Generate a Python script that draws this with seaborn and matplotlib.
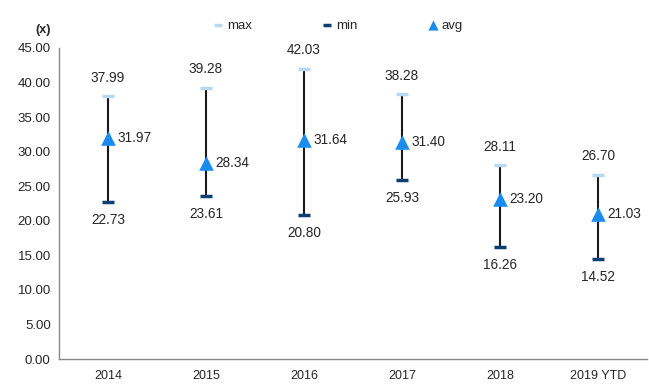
import matplotlib
matplotlib.use("Agg")
import matplotlib.pyplot as plt
import seaborn as sns
import pandas as pd
from matplotlib.ticker import FixedLocator, MultipleLocator, FormatStrFormatter

years = ["2014", "2015", "2016", "2017", "2018", "2019 YTD"]
max_vals = [37.99, 39.28, 42.03, 38.28, 28.11, 26.70]
min_vals = [22.73, 23.61, 20.80, 25.93, 16.26, 14.52]
avg_vals = [31.97, 28.34, 31.64, 31.40, 23.20, 21.03]

df = pd.DataFrame({"year": years, "max": max_vals, "min": min_vals, "avg": avg_vals})
df["pos"] = range(len(years))

sns.set_style("white")
plt.rcParams["font.family"] = ["Liberation Sans", "DejaVu Sans"]
plt.rcParams["font.size"] = 9

fig, ax = plt.subplots(figsize=(6.49, 3.87), dpi=100)
fig.subplots_adjust(left=0.091, right=0.997, top=0.876, bottom=0.072)

# whiskers
ax.vlines(df["pos"], df["min"], df["max"], color="#1a1a1a", lw=1.5, zorder=1)

sns.scatterplot(data=df, x="pos", y="max", marker="_", s=85, linewidth=2.5,
                color="#b8d8ef", ax=ax, label="max", zorder=2)
sns.scatterplot(data=df, x="pos", y="min", marker="_", s=85, linewidth=2.5,
                color="#0d3f73", ax=ax, label="min", zorder=2)
sns.scatterplot(data=df, x="pos", y="avg", marker="^", s=110, linewidth=0,
                color="#1a8cf0", ax=ax, label="avg", zorder=3)

for i, r in df.iterrows():
    ax.annotate(f"{r['max']:.2f}", (r["pos"], r["max"]), xytext=(0, 8),
                textcoords="offset points", ha="center", va="bottom", fontsize=9.8)
    ax.annotate(f"{r['min']:.2f}", (r["pos"], r["min"]), xytext=(0, -8),
                textcoords="offset points", ha="center", va="top", fontsize=9.8)
    ax.annotate(f"{r['avg']:.2f}", (r["pos"], r["avg"]), xytext=(7, 0),
                textcoords="offset points", ha="left", va="center", fontsize=9.8)

ax.set_xlim(-0.5, len(years) - 0.5)
ax.set_ylim(0, 45)
ax.yaxis.set_major_locator(MultipleLocator(5))
ax.yaxis.set_major_formatter(FormatStrFormatter("%.2f"))
ax.set_xticks(df["pos"])
ax.set_xticklabels(years)
ax.xaxis.set_minor_locator(FixedLocator([i - 0.5 for i in range(len(years) + 1)]))
ax.tick_params(axis="x", which="major", length=0, pad=8, labelsize=9)
ax.tick_params(axis="x", which="minor", length=4, width=1, color="#888888", direction="out")
ax.tick_params(axis="y", length=4, width=1, color="#888888", direction="out", labelsize=9.5, pad=2)
ax.set_xlabel("")
ax.set_ylabel("")
for s in ["top", "right"]:
    ax.spines[s].set_visible(False)
for s in ["left", "bottom"]:
    ax.spines[s].set_color("#888888")
    ax.spines[s].set_linewidth(1)

ax.legend(loc="upper center", bbox_to_anchor=(0.475, 1.13), ncol=3, frameon=False,
          handlelength=0.6, handletextpad=0.4, columnspacing=5.4, fontsize=9.5,
          markerscale=0.7)
fig.text(0.055, 0.915, "(x)", fontsize=9, fontweight="bold")

fig.savefig("out.png", dpi=100)
